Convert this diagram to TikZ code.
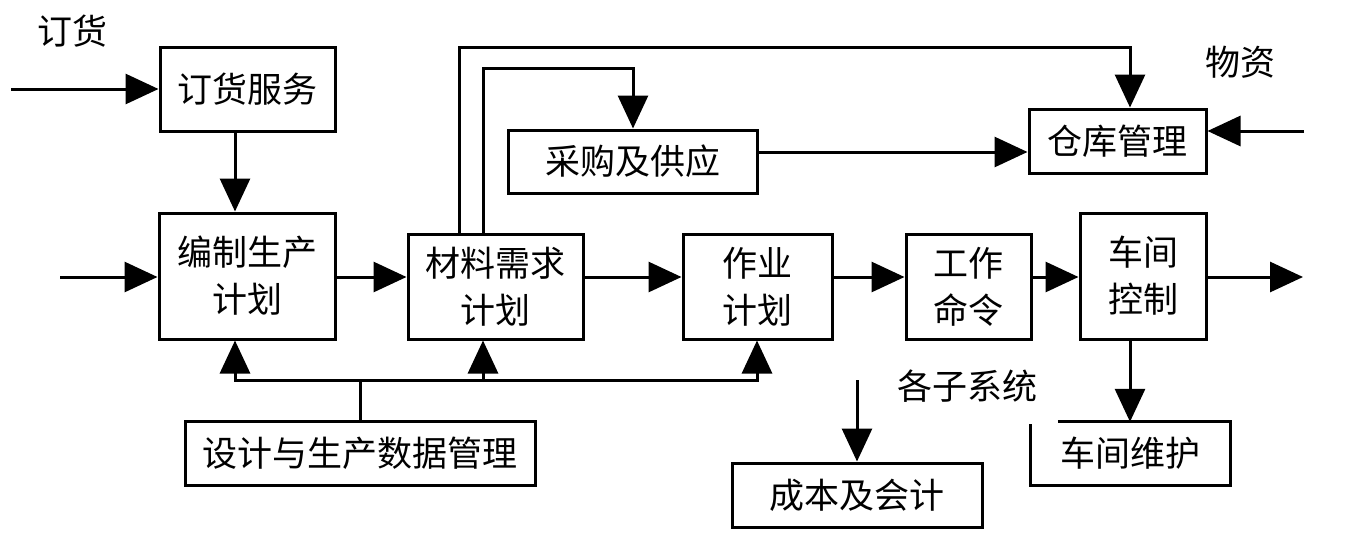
\documentclass[tikz,border=0pt]{standalone}
\usepackage{fontspec}
\setmainfont{Noto Sans CJK SC}
\usetikzlibrary{arrows.meta}
\begin{document}
\begin{tikzpicture}[x=1pt,y=-1pt,
  box/.style={draw, line width=3pt, inner sep=0pt, align=center, font=\fontsize{35}{47}\selectfont},
  lbl/.style={inner sep=0pt, font=\fontsize{35}{47}\selectfont},
  wire/.style={line width=3pt, line cap=rect},
  arr/.style={line width=3pt, -{Triangle[length=33pt,width=30pt]}},
]
\useasboundingbox (0,0) rectangle (1346,541);
% boxes
\node[box, minimum width=175pt, minimum height=84pt] (order) at (247.5,89) {订货服务};
\node[box, minimum width=176pt, minimum height=126pt] (plan) at (247,276) {编制生产\\计划};
\node[box, minimum width=175pt, minimum height=105pt] (mrp) at (495.5,286.5) {材料需求\\计划};
\node[box, minimum width=249pt, minimum height=63pt] (purch) at (632.5,161.5) {采购及供应};
\node[box, minimum width=177pt, minimum height=64pt] (ware) at (1117.5,141) {仓库管理};
\node[box, minimum width=149pt, minimum height=105pt] (job) at (757.5,286.5) {作业\\计划};
\node[box, minimum width=125pt, minimum height=105pt] (work) at (968.5,286.5) {工作\\命令};
\node[box, minimum width=126pt, minimum height=126pt] (shop) at (1143,276) {车间\\控制};
\node[lbl, minimum width=199pt, minimum height=63pt] (maint) at (1130.5,453.5) {车间维护};
\node[box, minimum width=350pt, minimum height=64pt] (design) at (360,453) {设计与生产数据管理};
\node[box, minimum width=250pt, minimum height=64pt] (cost) at (857,495) {成本及会计};
% free labels
\node[lbl] (tdh) at (72,31) {订货};
\node[lbl] (twz) at (1240,62) {物资};
\node[lbl] (tzxt) at (967,386) {各子系统};
% coordinates
\coordinate (in1) at (11,89);
\coordinate (in2) at (60,277);
\coordinate (in3) at (1304,131);
\coordinate (out1) at (1303,277);
\coordinate (row) at (0,277);
\coordinate (row2) at (0,152);
\coordinate (xa) at (235,0);
\coordinate (ta) at (459,47);
\coordinate (tb) at (1130,47);
\coordinate (tc) at (483,68);
\coordinate (td) at (633,68);
\coordinate (ba) at (235,380);
\coordinate (bb) at (483,380);
\coordinate (bc) at (757,380);
\coordinate (sub) at (857,380);
% connectors
\draw[arr] (in1) -- (order.west);
\draw[arr] (order.south -| xa) -- (plan.north -| xa);
\draw[arr] (in2) -- (plan.west |- in2);
\draw[arr] (plan.east |- row) -- (mrp.west |- row);
\draw[arr] (mrp.east |- row) -- (job.west |- row);
\draw[arr] (job.east |- row) -- (work.west |- row);
\draw[arr] (work.east |- row) -- (shop.west |- row);
\draw[arr] (shop.east |- row) -- (out1);
\draw[arr] (mrp.north -| ta) -- (ta) -- (tb) -- (ware.north -| tb);
\draw[arr] (mrp.north -| tc) -- (tc) -- (td) -- (purch.north -| td);
\draw[arr] (purch.east |- row2) -- (ware.west |- row2);
\draw[arr] (in3) -- (ware.east |- in3);
\draw[arr] (shop.south -| tb) -- (maint.north -| tb);
\draw[wire] (design.north) -- (design.north |- ba);
\draw[wire] (ba) -- (bc);
\draw[arr] (ba) -- (plan.south -| ba);
\draw[arr] (bb) -- (mrp.south -| bb);
\draw[arr] (bc) -- (job.south -| bc);
\draw[arr] (sub) -- (cost.north -| sub);
\draw[line width=3pt] ([xshift=27pt]maint.north west) -- (maint.north east) -- (maint.south east) -- (maint.south west) -- ([yshift=-2pt]maint.north west);
\end{tikzpicture}
\end{document}
